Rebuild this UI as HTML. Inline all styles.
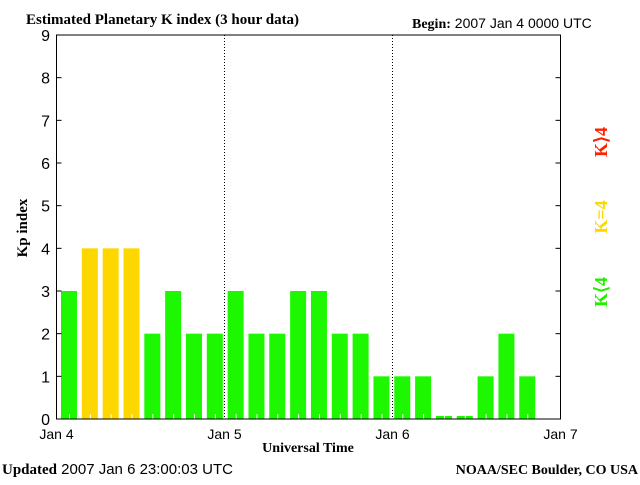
<!DOCTYPE html>
<html><head><meta charset="utf-8"><style>
body{margin:0;background:#fff;}
svg text{font-family:"Liberation Sans",sans-serif;}
.s{font-family:"Liberation Serif",serif;font-weight:bold;}
</style></head><body>
<svg id="c" width="640" height="480" xmlns="http://www.w3.org/2000/svg">
<text class="s" x="26" y="24" font-size="15">Estimated Planetary K index (3 hour data)</text>
<text x="412" y="28" font-size="14"><tspan class="s">Begin:</tspan>  2007 Jan 4 0000 UTC</text>
<text class="s" x="0" y="0" font-size="15" transform="translate(27,228) rotate(-90)" text-anchor="middle">Kp index</text>
<text class="s" x="308" y="452" font-size="14" text-anchor="middle">Universal Time</text>
<text x="2" y="474" font-size="15"><tspan class="s">Updated</tspan> 2007 Jan  6 23:00:03 UTC</text>
<text class="s" x="638" y="474" font-size="14" text-anchor="end">NOAA/SEC Boulder, CO USA</text>
<text class="s" font-size="18" fill="#ff2000" text-anchor="middle" transform="translate(607,142) rotate(-90)">K⟩4</text>
<text class="s" font-size="18" fill="#ffd700" text-anchor="middle" transform="translate(607,217) rotate(-90)">K=4</text>
<text class="s" font-size="18" fill="#22ee00" text-anchor="middle" transform="translate(607,292) rotate(-90)">K⟨4</text>
<g id="plot"></g>
</svg>
<script>
const kpValues=[3,4,4,4,2,3,2,2,3,2,2,3,3,2,2,1,1,1,0,0,1,2,1];
const yTicks=[0,1,2,3,4,5,6,7,8,9];
const dayLabels=["Jan 4","Jan 5","Jan 6","Jan 7"];
const L=56.5,R=560.5,T=35,B=419;
const x=i=>L+(R-L)*i/24;
const xb=i=>61+i*20.83;
const y=v=>B-(B-T)*v/9;
const ns="http://www.w3.org/2000/svg";
const g=document.getElementById('plot');
function mk(t,a){const e=document.createElementNS(ns,t);for(const k in a)e.setAttribute(k,a[k]);g.appendChild(e);return e;}
kpValues.forEach((v,i)=>{
 const top=Math.min(y(v),B-3);
 const r=mk('rect',{x:xb(i),y:top,width:16,height:B-top,fill:v>4?'#ff2000':(v==4?'#ffd700':'#1df800')});
 
 
 mk('line',{x1:xb(i)+8.5,x2:xb(i)+8.5,y1:B,y2:B-5,stroke:'#fff'});
});
[8,16].forEach(i=>{const l=mk('line',{x1:x(i),x2:x(i),y1:T,y2:B,stroke:'#000','stroke-dasharray':'1,2'});
 });
const f=mk('rect',{x:L,y:T,width:R-L,height:B-T,fill:'none',stroke:'#000'});

yTicks.forEach(v=>{mk('line',{x1:L,x2:L+5,y1:y(v),y2:y(v),stroke:'#000'});
 mk('line',{x1:R-5,x2:R,y1:y(v),y2:y(v),stroke:'#000'});
 const t=mk('text',{x:50,y:y(v)+6,'font-size':16,'text-anchor':'end'});t.textContent=v;
 });
dayLabels.forEach((d,i)=>{const t=mk('text',{x:x(i*8),y:439,'font-size':14,'text-anchor':'middle'});t.textContent=d;
 });
</script>
</body></html>
